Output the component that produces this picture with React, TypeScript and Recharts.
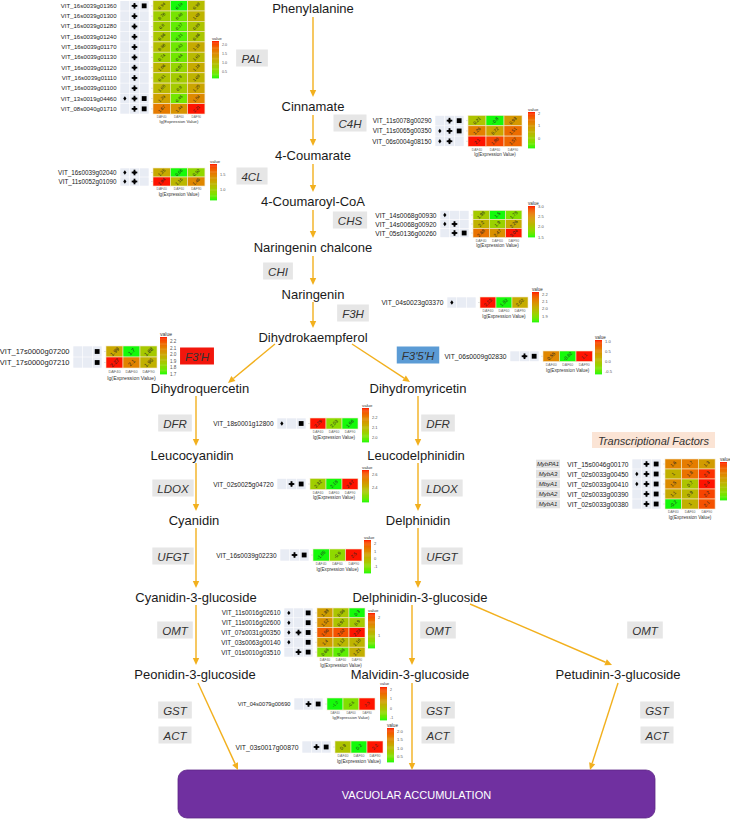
import React from 'react';
import { ScatterChart, Scatter, XAxis, YAxis, ReferenceLine, ReferenceArea } from 'recharts';

const FONT = '"Liberation Sans", Arial, Helvetica, sans-serif';
const ARROW = '#f2b01e';

// ---------------- pathway compounds ----------------
const COMPOUNDS = ['Phenylalanine', 'Cinnamate', '4-Coumarate', '4-Coumaroyl-CoA', 'Naringenin chalcone', 'Naringenin', 'Dihydrokaempferol', 'Dihydroquercetin', 'Dihydromyricetin', 'Leucocyanidin', 'Leucodelphinidin', 'Cyanidin', 'Delphinidin', 'Cyanidin-3-glucoside', 'Delphinidin-3-glucoside', 'Peonidin-3-glucoside', 'Malvidin-3-glucoside', 'Petudinin-3-glucoside'];
const COMPOUND_X = [313, 313, 313, 313, 313, 313, 313, 200, 418, 192, 416, 194, 418, 196, 420, 195, 410, 618];
const COMPOUND_Y = [8, 106, 155, 201, 247, 294, 337, 388, 388, 455, 455, 520, 520, 597, 597, 674, 674, 674];

// ---------------- enzymes ----------------
const ENZYMES = ['PAL', 'C4H', '4CL', 'CHS', 'CHI', 'F3H', "F3'H", "F3'5'H", 'DFR', 'DFR', 'LDOX', 'LDOX', 'UFGT', 'UFGT', 'OMT', 'OMT', 'OMT', 'GST', 'ACT', 'GST', 'ACT', 'GST', 'ACT'];
const ENZYME_X = [252, 350, 252, 350, 278, 353, 197, 418, 175, 438, 173, 442, 173, 442, 175, 438, 645, 175, 175, 438, 438, 657, 657];
const ENZYME_Y = [58, 123, 176, 220, 271, 313, 356, 355, 423, 423, 488, 488, 556, 556, 630, 630, 630, 710, 735, 710, 735, 710, 735];
const ENZYME_FILL = ['#e6e6e6', '#e6e6e6', '#e6e6e6', '#e6e6e6', '#e6e6e6', '#e6e6e6', '#f2160c', '#5b9bd5', '#e6e6e6', '#e6e6e6', '#e6e6e6', '#e6e6e6', '#e6e6e6', '#e6e6e6', '#e6e6e6', '#e6e6e6', '#e6e6e6', '#e6e6e6', '#e6e6e6', '#e6e6e6', '#e6e6e6', '#e6e6e6', '#e6e6e6'];

// ---------------- arrows (from, to) ----------------
const ARROWS = [
  [313, 17, 313, 97], [313, 115, 313, 146], [313, 164, 313, 192], [313, 210, 313, 238],
  [313, 256, 313, 285], [313, 302, 313, 328], [275, 344, 228, 383], [352, 344, 410, 382],
  [196, 396, 196, 446], [196, 463, 196, 511], [196, 528, 196, 588], [196, 605, 196, 665],
  [198, 683, 238, 770], [418, 396, 418, 446], [418, 463, 418, 511], [418, 528, 418, 588],
  [412, 605, 412, 665], [470, 604, 612, 665], [412, 683, 412, 770], [618, 683, 590, 770],
];

// ---------------- heatmap data ----------------
const DAF = ['DAF40', 'DAF60', 'DAF90'];

const PAL_GENES = ['VIT_16s0039g01360', 'VIT_16s0039g01300', 'VIT_16s0039g01280', 'VIT_16s0039g01240', 'VIT_16s0039g01170', 'VIT_16s0039g01130', 'VIT_16s0039g01120', 'VIT_16s0039g01110', 'VIT_16s0039g01100', 'VIT_13s0019g04460', 'VIT_08s0040g01710'];
const PAL_MARKS = ['CS', 'C', 'C', 'C', 'C', 'C', 'C', 'C', 'C', 'DCS', 'CS'];
const PAL_VALUES = [[0.94, 0.19, 0.98], [0.76, 0.48, 1.08], [0.8, 0.37, 0.89], [0.86, 0.31, 0.86], [0.96, 0.43, 1.18], [0.74, 0.44, 1.01], [1.06, 0.67, 1.18], [0.91, 0.8, 1.08], [1.05, 0.8, 1.25], [1.29, 0.45, 1.54], [1.67, 1.44, 2.21]];
const PAL_TICKS = ['2.0', '1.5', '1.0', '0.5'];

const C4H_GENES = ['VIT_11s0078g00290', 'VIT_11s0065g00350', 'VIT_06s0004g08150'];
const C4H_MARKS = ['CS', 'DCS', 'DC'];
const C4H_VALUES = [[0.21, -0.8, 0.93], [1.26, 0.72, 1.51], [2.1, 1.86, 1.57]];
const C4H_TICKS = ['2', '1', '0'];

const CL4_GENES = ['VIT_16s0039g02040', 'VIT_11s0052g01090'];
const CL4_MARKS = ['DC', 'DC'];
const CL4_VALUES = [[1.25, 0.66, 0.92], [1.84, 1.16, 1.46]];
const CL4_TICKS = ['1.5', '1.0'];

const CHS_GENES = ['VIT_14s0068g00930', 'VIT_14s0068g00920', 'VIT_05s0136g00260'];
const CHS_MARKS = ['D', 'DC', 'CS'];
const CHS_VALUES = [[1.98, 1.5, 1.78], [2.2, 1.9, 2.26], [2.68, 2.47, 3.04]];
const CHS_TICKS = ['3.0', '2.5', '2.0', '1.5'];

const F3H_GENES = ['VIT_04s0023g03370'];
const F3H_MARKS = ['D'];
const F3H_VALUES = [[2.23, 1.82, 2.02]];
const F3H_TICKS = ['2.2', '2.1', '2.0', '1.9'];

const F3pH_GENES = ['VIT_17s0000g07200', 'VIT_17s0000g07210'];
const F3pH_MARKS = ['S', 'S'];
const F3pH_VALUES = [[1.99, 1.7, 1.88], [2.27, 2.1, 1.96]];
const F3pH_TICKS = ['2.2', '2.1', '2.0', '1.9', '1.8', '1.7'];

const F35H_GENES = ['VIT_06s0009g02830'];
const F35H_MARKS = ['CS'];
const F35H_VALUES = [[0.55, -0.62, 1.1]];
const F35H_TICKS = ['1.0', '0.5', '0.0', '-0.5'];

const DFR_GENES = ['VIT_18s0001g12800'];
const DFR_MARKS = ['DS'];
const DFR_VALUES = [[2.29, 2.03, 1.96]];
const DFR_TICKS = ['2.2', '2.1', '2.0'];

const LDOX_GENES = ['VIT_02s0025g04720'];
const LDOX_MARKS = ['CS'];
const LDOX_VALUES = [[2.32, 2.18, 2.67]];
const LDOX_TICKS = ['2.6', '2.4'];

const UFGT_GENES = ['VIT_16s0039g02230'];
const UFGT_MARKS = ['CS'];
const UFGT_VALUES = [[-1.85, -0.9, 2.5]];
const UFGT_TICKS = ['2', '1', '0', '-1'];

const OMT_GENES = ['VIT_11s0016g02610', 'VIT_11s0016g02600', 'VIT_07s0031g00350', 'VIT_03s0063g00140', 'VIT_01s0010g03510'];
const OMT_MARKS = ['DS', 'DS', 'DCS', 'DS', 'CS'];
const OMT_VALUES = [[1.38, 0.96, 0.3], [1.52, 0.97, 0.9], [1.96, 2.02, 2.24], [1.4, 1.12, 1.16], [0.66, 0.46, 1.21]];
const OMT_TICKS = ['2', '1'];

const GST_GENES = ['VIT_04s0079g00690'];
const GST_MARKS = ['CS'];
const GST_VALUES = [[-1.2, -0.6, 2.3]];
const GST_TICKS = ['2', '1', '0', '-1'];

const ACT_GENES = ['VIT_03s0017g00870'];
const ACT_MARKS = ['CS'];
const ACT_VALUES = [[0.9, 0.2, 2.2]];
const ACT_TICKS = ['2.0', '1.5', '1.0', '0.5'];

const TF_NAMES = ['MybPA1', 'MybA3', 'MbyA1', 'MybA2', 'MybA1'];
const TF_GENES = ['VIT_15s0046g00170', 'VIT_02s0033g00450', 'VIT_02s0033g00410', 'VIT_02s0033g00390', 'VIT_02s0033g00380'];
const TF_MARKS = ['CS', 'DCS', 'DCS', 'CS', 'CS'];
const TF_VALUES = [[1.6, 1.7, 1.3], [1.0, 1.8, 2.3], [1.5, 0.7, 2.4], [1.1, 0.9, 2.2], [-0.2, 1.0, 2.1]];
const TF_TICKS: string[] = []; // tick labels fall outside the picture in the reference

const BLOCKS = [
  { genes: PAL_GENES, marks: PAL_MARKS, values: PAL_VALUES, ticks: PAL_TICKS },
  { genes: C4H_GENES, marks: C4H_MARKS, values: C4H_VALUES, ticks: C4H_TICKS },
  { genes: CL4_GENES, marks: CL4_MARKS, values: CL4_VALUES, ticks: CL4_TICKS },
  { genes: CHS_GENES, marks: CHS_MARKS, values: CHS_VALUES, ticks: CHS_TICKS },
  { genes: F3H_GENES, marks: F3H_MARKS, values: F3H_VALUES, ticks: F3H_TICKS },
  { genes: F3pH_GENES, marks: F3pH_MARKS, values: F3pH_VALUES, ticks: F3pH_TICKS },
  { genes: F35H_GENES, marks: F35H_MARKS, values: F35H_VALUES, ticks: F35H_TICKS },
  { genes: DFR_GENES, marks: DFR_MARKS, values: DFR_VALUES, ticks: DFR_TICKS },
  { genes: LDOX_GENES, marks: LDOX_MARKS, values: LDOX_VALUES, ticks: LDOX_TICKS },
  { genes: UFGT_GENES, marks: UFGT_MARKS, values: UFGT_VALUES, ticks: UFGT_TICKS },
  { genes: OMT_GENES, marks: OMT_MARKS, values: OMT_VALUES, ticks: OMT_TICKS },
  { genes: GST_GENES, marks: GST_MARKS, values: GST_VALUES, ticks: GST_TICKS },
  { genes: ACT_GENES, marks: ACT_MARKS, values: ACT_VALUES, ticks: ACT_TICKS },
  { genes: TF_GENES, marks: TF_MARKS, values: TF_VALUES, ticks: TF_TICKS },
];

// layout of each heatmap block (heatmap top-left, cell size, colour bar x / top / bottom, label font size)
const BLOCK_LAYOUT = [
  { hx: 153, hy: 0.7, cw: 17.3, ch: 10.3, cbx: 212, cbt: 41, cbb: 78, fs: 6.0 },
  { hx: 468, hy: 115.5, cw: 18, ch: 10.3, cbx: 528, cbt: 112, cbb: 148, fs: 6.4 },
  { hx: 153, hy: 168, cw: 17.3, ch: 9, cbx: 210, cbt: 164, cbb: 200, fs: 6.3 },
  { hx: 473, hy: 210.5, cw: 16.3, ch: 9, cbx: 528, cbt: 206, cbb: 237, fs: 6.6 },
  { hx: 480, hy: 297, cw: 16, ch: 11, cbx: 532, cbt: 292, cbb: 322, fs: 6.7 },
  { hx: 106, hy: 346, cw: 17, ch: 11, cbx: 160, cbt: 337, cbb: 374, fs: 7.5 },
  { hx: 543, hy: 351, cw: 16.5, ch: 10.5, cbx: 595, cbt: 340, cbb: 374, fs: 6.7 },
  { hx: 310, hy: 418, cw: 16, ch: 11, cbx: 362, cbt: 408, cbb: 442, fs: 6.5 },
  { hx: 310, hy: 478.5, cw: 16, ch: 11, cbx: 362, cbt: 470, cbb: 502, fs: 6.5 },
  { hx: 313, hy: 549, cw: 16.3, ch: 12, cbx: 364, cbt: 540, cbb: 573, fs: 6.5 },
  { hx: 317, hy: 608, cw: 16, ch: 9.8, cbx: 368, cbt: 613, cbb: 648, fs: 6.4 },
  { hx: 327, hy: 698, cw: 16, ch: 12, cbx: 380, cbt: 687, cbb: 720, fs: 5.7 },
  { hx: 335, hy: 741, cw: 16, ch: 12, cbx: 387, cbt: 728, cbb: 762, fs: 6.8 },
  { hx: 665, hy: 459, cw: 16.7, ch: 10, cbx: 720, cbt: 462, cbb: 500, fs: 6.6 },
];

// ---------------- colour (ggplot-like Lab interpolation green -> red) ----------------
function toLin(c: number) { c /= 255; return c <= 0.04045 ? c / 12.92 : Math.pow((c + 0.055) / 1.055, 2.4); }
function toS(c: number) { c = Math.max(0, Math.min(1, c)); return c <= 0.0031308 ? 12.92 * c : 1.055 * Math.pow(c, 1 / 2.4) - 0.055; }
function rgb2lab(r: number, g: number, b: number) {
  const R = toLin(r), G = toLin(g), B = toLin(b);
  const X = (0.4124 * R + 0.3576 * G + 0.1805 * B) / 0.95047;
  const Y = 0.2126 * R + 0.7152 * G + 0.0722 * B;
  const Z = (0.0193 * R + 0.1192 * G + 0.9505 * B) / 1.08883;
  const f = (t: number) => (t > 0.008856 ? Math.cbrt(t) : 7.787 * t + 16 / 116);
  const fx = f(X), fy = f(Y), fz = f(Z);
  return [116 * fy - 16, 500 * (fx - fy), 200 * (fy - fz)];
}
function lab2hex(L: number, a: number, b: number) {
  const fy = (L + 16) / 116, fx = fy + a / 500, fz = fy - b / 200;
  const inv = (t: number) => (t * t * t > 0.008856 ? t * t * t : (t - 16 / 116) / 7.787);
  const X = 0.95047 * inv(fx), Y = inv(fy), Z = 1.08883 * inv(fz);
  const R = 3.2406 * X - 1.5372 * Y - 0.4986 * Z;
  const G = -0.9689 * X + 1.8758 * Y + 0.0415 * Z;
  const B = 0.0557 * X - 0.204 * Y + 1.057 * Z;
  const h = (v: number) => Math.round(toS(v) * 255).toString(16).padStart(2, '0');
  return '#' + h(R) + h(G) + h(B);
}
const LOW = rgb2lab(20, 250, 10);
const HIGH = rgb2lab(255, 20, 0);
function colorAt(t: number) {
  t = Math.max(0, Math.min(1, t));
  return lab2hex(LOW[0] + (HIGH[0] - LOW[0]) * t, LOW[1] + (HIGH[1] - LOW[1]) * t, LOW[2] + (HIGH[2] - LOW[2]) * t);
}

// ---------------- build scatter series ----------------
const cellData: any[] = [];
const geneData: any[] = [];
const panelData: any[] = [];
const smallText: any[] = [];
const cbSlices: any[] = [];

BLOCKS.forEach((b, i) => {
  const L = BLOCK_LAYOUT[i];
  const s = L.fs / 6.5;
  const flat = b.values.flat();
  const mn = Math.min(...flat), mx = Math.max(...flat);
  b.values.forEach((row, r) => {
    const cy = L.hy + L.ch * (r + 0.5);
    row.forEach((v, c) => {
      cellData.push({ x: L.hx + L.cw * (c + 0.5), y: cy, v, w: L.cw, h: L.ch, fs: 4.5 * s, fill: colorAt((v - mn) / (mx - mn)) });
    });
    geneData.push({ x: L.hx - 36.5, y: cy, text: b.genes[r], fs: L.fs });
    panelData.push({ x: L.hx - 18.5, y: cy, marks: b.marks[r], h: L.ch });
  });
  const bottom = L.hy + L.ch * b.values.length;
  DAF.forEach((d, c) => smallText.push({ x: L.hx + L.cw * (c + 0.5), y: bottom + 3.2 * s, text: d, size: 3.4 * s, fill: '#666', anchor: 'middle' }));
  smallText.push({ x: L.hx + L.cw * 1.5, y: bottom + 8.3 * s, text: 'lg(Expression Value)', size: 4.6 * s, fill: '#333', anchor: 'middle' });
  const N = 30;
  const sh = (L.cbb - L.cbt) / N;
  for (let k = 0; k < N; k++) {
    cbSlices.push({ x: L.cbx + 3.5, y: L.cbt + sh * (k + 0.5), h: sh, fill: colorAt(1 - (k + 0.5) / N) });
  }
  smallText.push({ x: L.cbx, y: L.cbt - 3, text: 'value', size: 4.4 * s, fill: '#333', anchor: 'start' });
  b.ticks.forEach((t) => {
    const v = Number(t);
    if (v >= mn - 1e-9 && v <= mx + 1e-9) {
      smallText.push({ x: L.cbx + 10, y: L.cbt + ((mx - v) / (mx - mn)) * (L.cbb - L.cbt), text: t, size: 4 * s, fill: '#555', anchor: 'start' });
    }
  });
});

const compoundData = COMPOUNDS.map((c, i) => ({ x: COMPOUND_X[i], y: COMPOUND_Y[i], text: c }));
const enzymeData = ENZYMES.map((e, i) => ({ x: ENZYME_X[i], y: ENZYME_Y[i], text: e, fill: ENZYME_FILL[i] }));
const TFL = BLOCK_LAYOUT[13];
const tfNameData = TF_NAMES.map((n, r) => ({ x: TFL.hx - 117, y: TFL.hy + TFL.ch * (r + 0.5), text: n }));
const titleData = [
  { x: 653.5, y: 440, text: 'Transcriptional Factors', kind: 'tf' },
  { x: 416.5, y: 795, text: 'VACUOLAR ACCUMULATION', kind: 'vac' },
];

// ---------------- shapes ----------------
const CW: Record<string, number> = { "'": 0.19, '3': 0.556, '4': 0.556, '5': 0.556, I: 0.278, L: 0.556, F: 0.611, T: 0.611, P: 0.667, A: 0.667, S: 0.667, H: 0.722, C: 0.722, D: 0.722, R: 0.722, U: 0.722, G: 0.778, O: 0.778, X: 0.667, M: 0.833 };
function textWidth(s: string, size: number) {
  let w = 0;
  for (const ch of s) w += CW[ch] ?? 0.6;
  return w * size;
}

const ArrowShape = (p: any) => {
  const { x1, y1, x2, y2 } = p;
  const ang = Math.atan2(y2 - y1, x2 - x1);
  const len = 7, hw = 3.2;
  const bx = x2 - len * Math.cos(ang), by = y2 - len * Math.sin(ang);
  const px = -Math.sin(ang) * hw, py = Math.cos(ang) * hw;
  return (
    <g>
      <line x1={x1} y1={y1} x2={bx} y2={by} stroke={ARROW} strokeWidth={1.4} />
      <polygon points={`${x2},${y2} ${bx + px},${by + py} ${bx - px},${by - py}`} fill={ARROW} />
    </g>
  );
};

const CompoundShape = (p: any) => (
  <text x={p.cx} y={p.cy} textAnchor="middle" dominantBaseline="central" fontFamily={FONT} fontSize={13} fill="#1a1a1a">
    {p.payload.text}
  </text>
);

const EnzymeShape = (p: any) => {
  const { cx, cy, payload } = p;
  const w = textWidth(payload.text, 11.5) + 10;
  return (
    <g>
      <rect x={cx - w / 2} y={cy - 8.5} width={w} height={17} fill={payload.fill} />
      <text x={cx} y={cy + 0.5} textAnchor="middle" dominantBaseline="central" fontFamily={FONT} fontSize={11.5} fontStyle="italic" fill="#333">
        {payload.text}
      </text>
    </g>
  );
};

const CellShape = (p: any) => {
  const { cx, cy, payload } = p;
  const { w, h, fill, v, fs } = payload;
  return (
    <g>
      <rect x={cx - w / 2} y={cy - h / 2} width={w} height={h} fill={fill} stroke="#f4e6c8" strokeWidth={0.6} />
      <text x={cx} y={cy} transform={`rotate(-45 ${cx} ${cy})`} textAnchor="middle" dominantBaseline="central" fontFamily={FONT} fontSize={fs} fill="#222">
        {String(v)}
      </text>
    </g>
  );
};

const GeneShape = (p: any) => (
  <text x={p.cx} y={p.cy} textAnchor="end" dominantBaseline="central" fontFamily={FONT} fontSize={p.payload.fs} fill="#1a1a1a">
    {p.payload.text}
  </text>
);

const PanelShape = (p: any) => {
  const { cx, cy, payload } = p;
  const h = payload.h;
  const left = cx - 14.5;
  const colW = 29 / 3;
  const items: any[] = [];
  for (let i = 0; i < 3; i++) {
    items.push(<rect key={'b' + i} x={left + i * colW + 0.3} y={cy - h / 2 + 0.3} width={colW - 0.6} height={h - 0.6} fill="#e8ecf4" />);
  }
  const m = payload.marks as string;
  if (m.includes('D')) {
    const x = left + colW * 0.5;
    items.push(<polygon key="d" points={`${x},${cy - 2.2} ${x + 1.6},${cy} ${x},${cy + 2.2} ${x - 1.6},${cy}`} fill="#000" />);
  }
  if (m.includes('C')) {
    const x = left + colW * 1.5;
    items.push(<rect key="c1" x={x - 2.8} y={cy - 0.9} width={5.6} height={1.8} fill="#000" />);
    items.push(<rect key="c2" x={x - 0.9} y={cy - 2.8} width={1.8} height={5.6} fill="#000" />);
    items.push(<circle key="c3" cx={x} cy={cy} r={1.5} fill="#000" />);
  }
  if (m.includes('S')) {
    const x = left + colW * 2.5;
    items.push(<rect key="s" x={x - 2.4} y={cy - 2.4} width={4.8} height={4.8} fill="#000" />);
  }
  items.push(<line key="t" x1={left + 31.5} y1={cy} x2={left + 32.5} y2={cy} stroke="#888" strokeWidth={0.5} />);
  return <g>{items}</g>;
};

const SmallTextShape = (p: any) => (
  <text x={p.cx} y={p.cy} textAnchor={p.payload.anchor} dominantBaseline="central" fontFamily={FONT} fontSize={p.payload.size} fill={p.payload.fill}>
    {p.payload.text}
  </text>
);

const SliceShape = (p: any) => (
  <rect x={p.cx - 3.5} y={p.cy - p.payload.h / 2} width={7} height={p.payload.h + 0.4} fill={p.payload.fill} />
);

const TfNameShape = (p: any) => {
  const w = 24;
  return (
    <g>
      <rect x={p.cx - w / 2} y={p.cy - 4.3} width={w} height={8.6} fill="#e2e2e2" />
      <text x={p.cx} y={p.cy} textAnchor="middle" dominantBaseline="central" fontFamily={FONT} fontSize={6} fontStyle="italic" fill="#222">
        {p.payload.text}
      </text>
    </g>
  );
};

const TitleShape = (p: any) => {
  const { cx, cy, payload } = p;
  if (payload.kind === 'tf') {
    return (
      <g>
        <rect x={cx - 61.5} y={cy - 8} width={123} height={16} fill="#fbe4d5" />
        <text x={cx} y={cy + 0.5} textAnchor="middle" dominantBaseline="central" fontFamily={FONT} fontSize={11} fontStyle="italic" fill="#333">
          {payload.text}
        </text>
      </g>
    );
  }
  return (
    <text x={cx} y={cy} textAnchor="middle" dominantBaseline="central" fontFamily={FONT} fontSize={11} fill="#ffffff">
      {payload.text}
    </text>
  );
};

const VacShape = (p: any) => (
  <rect x={p.x} y={p.y} width={p.width} height={p.height} rx={9} ry={9} fill="#7030a0" stroke="#5d2687" strokeWidth={0.8} />
);

export default function App() {
  return (
    <div style={{ position: 'absolute', left: 0, top: 0, width: 730, height: 820, background: '#fff' }}>
      <ScatterChart width={730} height={820} margin={{ top: 0, right: 0, bottom: 0, left: 0 }}>
        <XAxis type="number" dataKey="x" domain={[0, 730]} hide height={0} allowDataOverflow />
        <YAxis type="number" dataKey="y" domain={[0, 820]} reversed hide width={0} allowDataOverflow />
        <ReferenceArea x1={178} x2={655} y1={770} y2={818} shape={VacShape} ifOverflow="visible" />
        {ARROWS.map((a, i) => (
          <ReferenceLine key={i} segment={[{ x: a[0], y: a[1] }, { x: a[2], y: a[3] }]} shape={ArrowShape} ifOverflow="visible" />
        ))}
        <Scatter data={compoundData} shape={CompoundShape} isAnimationActive={false} />
        <Scatter data={enzymeData} shape={EnzymeShape} isAnimationActive={false} />
        <Scatter data={panelData} shape={PanelShape} isAnimationActive={false} />
        <Scatter data={cellData} shape={CellShape} isAnimationActive={false} />
        <Scatter data={geneData} shape={GeneShape} isAnimationActive={false} />
        <Scatter data={cbSlices} shape={SliceShape} isAnimationActive={false} />
        <Scatter data={smallText} shape={SmallTextShape} isAnimationActive={false} />
        <Scatter data={tfNameData} shape={TfNameShape} isAnimationActive={false} />
        <Scatter data={titleData} shape={TitleShape} isAnimationActive={false} />
      </ScatterChart>
    </div>
  );
}
